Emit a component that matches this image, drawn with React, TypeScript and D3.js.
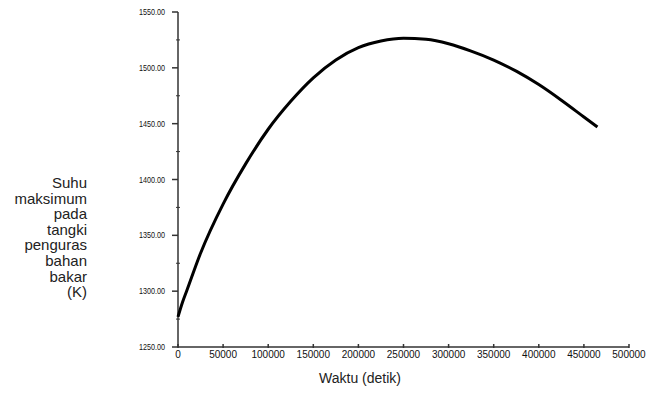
import React, { useEffect, useRef } from "react";
import * as d3 from "d3";

const timeSeconds = [0, 5000, 10000, 25000, 50000, 75000, 100000, 125000, 150000, 175000, 200000, 225000, 250000, 275000, 300000, 325000, 350000, 375000, 400000, 425000, 450000, 465000];
const maxTemp = [1277, 1290, 1301, 1334, 1378, 1414, 1445, 1470, 1491, 1507, 1518, 1524, 1526.5, 1525.5, 1521.5, 1515, 1507, 1497, 1485, 1471, 1456, 1447];
const xTicks = [0, 50000, 100000, 150000, 200000, 250000, 300000, 350000, 400000, 450000, 500000];
const yTicks = [1250, 1300, 1350, 1400, 1450, 1500, 1550];
const yMinorTicks = [1275, 1325, 1375, 1425, 1475, 1525];
const yTitleLines = ["Suhu", "maksimum", "pada", "tangki", "penguras", "bahan", "bakar", "(K)"];
const xTitle = "Waktu (detik)";

const W = 659;
const H = 408;
const plot = { left: 178, right: 629, top: 12, bottom: 347 };

export default function App() {
  const ref = useRef<SVGSVGElement | null>(null);

  useEffect(() => {
    const svg = d3.select(ref.current);
    svg.selectAll("*").remove();

    const x = d3.scaleLinear().domain([0, 500000]).range([plot.left, plot.right]);
    const y = d3.scaleLinear().domain([1250, 1550]).range([plot.bottom, plot.top]);

    const axisColor = "#333";

    // Y axis
    const gy = svg.append("g");
    gy.append("line")
      .attr("x1", plot.left).attr("x2", plot.left)
      .attr("y1", y(1550)).attr("y2", y(1250))
      .attr("stroke", axisColor).attr("stroke-width", 1.5);
    gy.selectAll("line.maj").data(yTicks).enter().append("line")
      .attr("x1", plot.left - 6).attr("x2", plot.left)
      .attr("y1", (d) => y(d)).attr("y2", (d) => y(d))
      .attr("stroke", axisColor).attr("stroke-width", 1.5);
    gy.selectAll("line.min").data(yMinorTicks).enter().append("line")
      .attr("x1", plot.left - 2).attr("x2", plot.left + 2)
      .attr("y1", (d) => y(d)).attr("y2", (d) => y(d))
      .attr("stroke", axisColor).attr("stroke-width", 1);
    gy.selectAll("text").data(yTicks).enter().append("text")
      .attr("x", plot.left - 13).attr("y", (d) => y(d))
      .attr("dy", "0.35em")
      .attr("text-anchor", "end")
      .attr("font-family", "'Liberation Sans', Arial, sans-serif")
      .attr("font-size", 9)
      .attr("textLength", 26)
      .attr("lengthAdjust", "spacingAndGlyphs")
      .attr("fill", "#111")
      .text((d) => d3.format(".2f")(d));

    // X axis
    const gx = svg.append("g");
    gx.append("line")
      .attr("x1", plot.left).attr("x2", plot.right)
      .attr("y1", plot.bottom).attr("y2", plot.bottom)
      .attr("stroke", axisColor).attr("stroke-width", 1.5);
    gx.selectAll("line.maj").data(xTicks).enter().append("line")
      .attr("x1", (d) => x(d)).attr("x2", (d) => x(d))
      .attr("y1", plot.bottom - 3).attr("y2", plot.bottom + 1)
      .attr("stroke", axisColor).attr("stroke-width", 1.5);
    gx.selectAll("text").data(xTicks).enter().append("text")
      .attr("x", (d) => x(d)).attr("y", plot.bottom + 7)
      .attr("dy", "0.35em")
      .attr("text-anchor", "middle")
      .attr("font-family", "'Liberation Sans', Arial, sans-serif")
      .attr("font-size", 10)
      .attr("fill", "#111")
      .text((d) => String(d));

    // Line
    const line = d3.line<number>()
      .x((_, i) => x(timeSeconds[i]))
      .y((d) => y(d))
      .curve(d3.curveMonotoneX);
    svg.append("path")
      .datum(maxTemp)
      .attr("d", line)
      .attr("fill", "none")
      .attr("stroke", "#000")
      .attr("stroke-width", 3)
      .attr("stroke-linejoin", "round");

    // Titles
    svg.append("text")
      .attr("x", 360)
      .attr("y", 383)
      .attr("text-anchor", "middle")
      .attr("font-family", "'Liberation Sans', Arial, sans-serif")
      .attr("font-size", 14)
      .attr("fill", "#222")
      .text(xTitle);

    const yt = svg.append("text")
      .attr("text-anchor", "end")
      .attr("font-family", "'Liberation Sans', Arial, sans-serif")
      .attr("font-size", 15)
      .attr("fill", "#222");
    yTitleLines.forEach((t, i) => {
      yt.append("tspan").attr("x", 87).attr("y", 188 + i * 15.6).text(t);
    });
  }, []);

  return (
    <svg
      ref={ref}
      width={W}
      height={H}
      style={{ display: "block", background: "#fff", position: "absolute", left: 0, top: 0 }}
    />
  );
}
